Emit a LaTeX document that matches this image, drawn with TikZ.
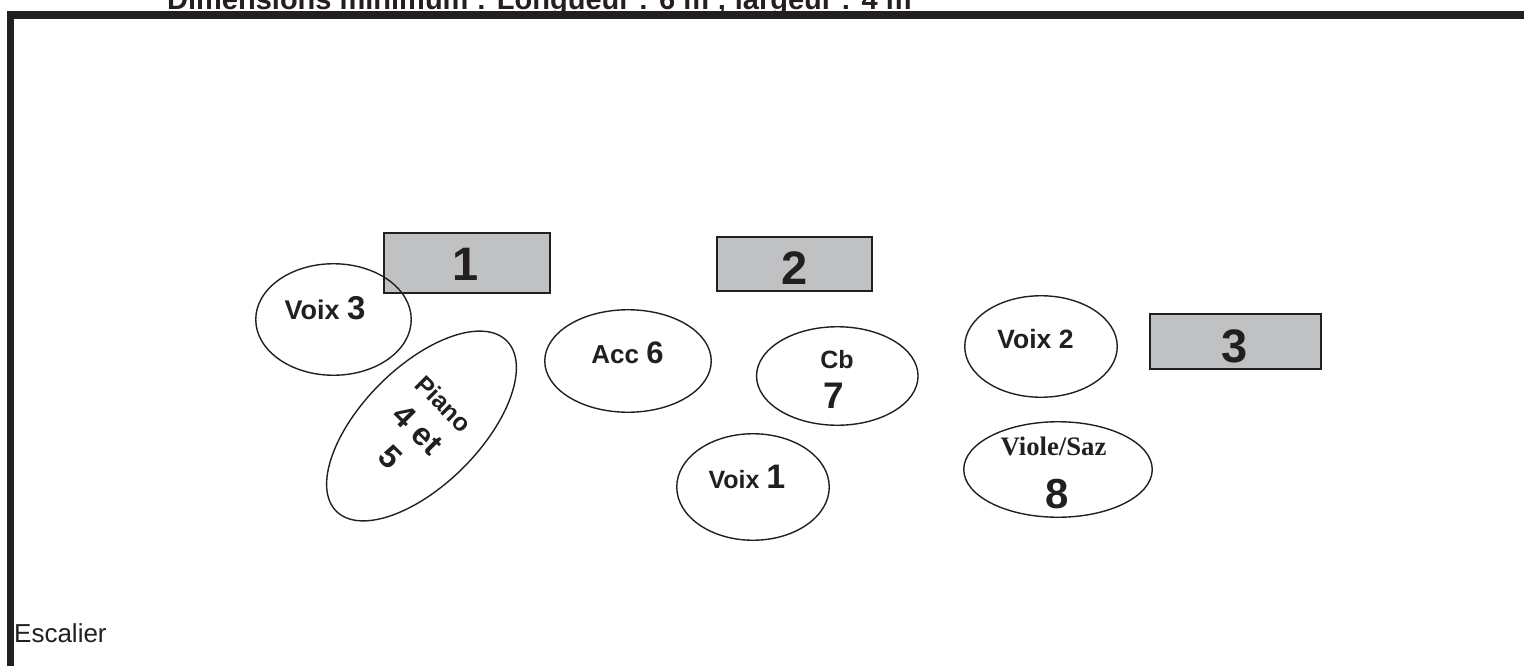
\documentclass[tikz,border=0pt]{standalone}
\usepackage{fontspec}
\setmainfont{Liberation Sans}
\newfontfamily\serifbold{Liberation Serif}[BoldFont={Liberation Serif Bold}]
\usetikzlibrary{shapes.geometric}
\definecolor{inkc}{HTML}{231F20}
\definecolor{boxgray}{HTML}{C0C1C3}
\newcommand\fsz[1]{\fontsize{#1}{#1}\selectfont}
\begin{document}
\begin{tikzpicture}[x=1pt,y=-1pt,
  ell/.style={ellipse, draw=inkc, line width=1.4pt, inner sep=0pt},
  stagebox/.style={rectangle, draw=inkc, fill=boxgray, line width=1.8pt, inner sep=0pt},
  lbl/.style={text=inkc, anchor=base, inner sep=0pt, font=\bfseries}]
\useasboundingbox (0,0) rectangle (1524,666);
\clip (0,0) rectangle (1524,666);
% frame
\draw[draw=inkc, line width=7.5pt, line join=miter] (1530,15) -- (10.5,15) -- (10.5,672);
% title (cut off at top)
\node[anchor=base west, inner sep=0pt, text=inkc, font=\bfseries\fsz{29}] (title) at (167,9.5)
  {Dimensions minimum : Longueur : 6 m ; largeur : 4 m};
% stair label
\node[anchor=base west, inner sep=0pt, text=inkc, font=\fsz{26}] (esc) at (14,642) {Escalier};
% grey boxes
\node[stagebox, minimum width=166pt, minimum height=60pt] (b1) at (467,263) {};
\node[stagebox, minimum width=155pt, minimum height=54pt] (b2) at (794.5,264) {};
\node[stagebox, minimum width=171pt, minimum height=55pt] (b3) at (1235.5,341.5) {};
\node[lbl, font=\bfseries\fsz{47}] (b1t) at (466,280) {1};
\node[lbl, font=\bfseries\fsz{47}] (b2t) at (794.5,284) {2};
\node[lbl, font=\bfseries\fsz{47}] (b3t) at (1235,362) {3};
% ellipses
\node[ell, minimum width=155.5pt, minimum height=111.5pt] (v3) at (333.5,319.5) {};
\node[ell, minimum width=118pt, minimum height=241pt, rotate=-45] (pia) at (421.5,426) {};
\node[ell, minimum width=166.5pt, minimum height=102.5pt] (acc) at (628,361) {};
\node[ell, minimum width=161.5pt, minimum height=98.5pt] (cb) at (837.3,376) {};
\node[ell, minimum width=152.5pt, minimum height=106.5pt] (v1) at (753,487) {};
\node[ell, minimum width=152.5pt, minimum height=101.5pt] (v2) at (1041,346.5) {};
\node[ell, minimum width=188.5pt, minimum height=95.5pt] (vs) at (1058,469.5) {};
% labels
\node[lbl] (v3t) at (325,319) {\fsz{27}Voix \fsz{33}3};
\node[text=inkc, inner sep=0pt, rotate=-45, align=center,
      font=\bfseries\fontsize{32}{38.6}\selectfont] (piat) at (416.4,431.1)
  {{\fontsize{25}{38.6}\selectfont Piano}\\4 et\\5};
\node[lbl] (acct) at (627.5,363) {\fsz{26}Acc \fsz{31}6};
\node[lbl, font=\bfseries\fsz{25}] (cbt1) at (837,368) {Cb};
\node[lbl, font=\bfseries\fsz{37}] (cbt2) at (834,408) {7};
\node[lbl] (v1t) at (747,488) {\fsz{25}Voix \fsz{34}1};
\node[lbl, font=\bfseries\fsz{26.5}] (v2t) at (1035.5,348) {Voix 2};
\node[lbl, font=\serifbold\bfseries\fsz{26.7}] (vst1) at (1053.5,455) {Viole/Saz};
\node[lbl, font=\bfseries\fsz{42}] (vst2) at (1056.7,508) {8};
\end{tikzpicture}
\end{document}
